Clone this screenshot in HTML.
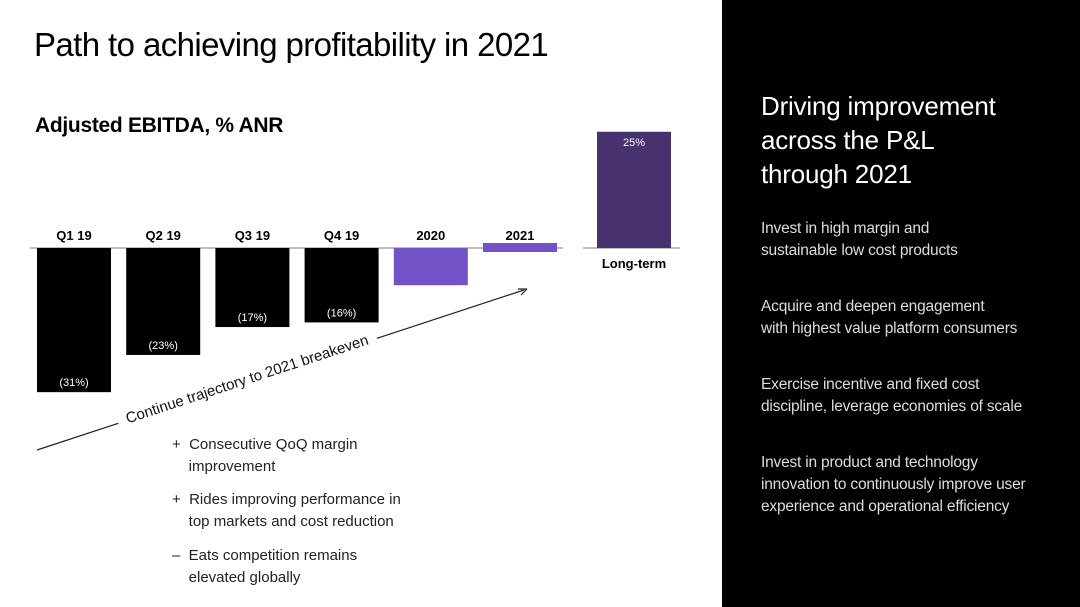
<!DOCTYPE html>
<html><head><meta charset="utf-8"><style>
body{margin:0;width:1080px;height:607px;overflow:hidden;background:#fff;font-family:"Liberation Sans",sans-serif;position:relative}
.t{position:absolute;white-space:nowrap}
#right{position:absolute;left:722px;top:0;width:358px;height:607px;background:#000}
.rp{position:absolute;left:39px;color:#ddd;font-size:15.5px;line-height:22px;letter-spacing:-0.2px}
</style></head><body>
<div class="t" style="left:34px;top:26px;font-size:33px;letter-spacing:-0.6px;color:#000">Path to achieving profitability in 2021</div>
<div class="t" style="left:35px;top:114px;font-size:21px;font-weight:bold;letter-spacing:-0.3px">Adjusted EBITDA, % ANR</div>
<svg id="chart" width="722" height="607" style="position:absolute;left:0;top:0"></svg>
<div class="t" style="left:172px;top:434px;font-size:15px;line-height:22px;color:#222">+&nbsp;&nbsp;Consecutive QoQ margin<br>&nbsp;&nbsp;&nbsp;&nbsp;improvement</div>
<div class="t" style="left:172px;top:489px;font-size:15px;line-height:22px;color:#222">+&nbsp;&nbsp;Rides improving performance in<br>&nbsp;&nbsp;&nbsp;&nbsp;top markets and cost reduction</div>
<div class="t" style="left:172px;top:545px;font-size:15px;line-height:22px;color:#222">&ndash;&nbsp;&nbsp;Eats competition remains<br>&nbsp;&nbsp;&nbsp;&nbsp;elevated globally</div>
<div id="right">
<div class="t" style="left:39px;top:89px;color:#fff;font-size:26px;line-height:34px;letter-spacing:-0.2px">Driving improvement<br>across the P&amp;L<br>through 2021</div>
<div class="rp" style="top:218px">Invest in high margin and<br>sustainable low cost products</div>
<div class="rp" style="top:296px">Acquire and deepen engagement<br>with highest value platform consumers</div>
<div class="rp" style="top:374px">Exercise incentive and fixed cost<br>discipline, leverage economies of scale</div>
<div class="rp" style="top:452px">Invest in product and technology<br>innovation to continuously improve user<br>experience and operational efficiency</div>
</div>
<script>
const categories=["Q1 19","Q2 19","Q3 19","Q4 19","2020","2021","Long-term"];
const values=[-31,-23,-17,-16,-8,0,25];
const labels=["(31%)","(23%)","(17%)","(16%)","","","25%"];
const colors=["#000","#000","#000","#000","#7352c7","#7352c7","#47326f"];
const svg=document.getElementById('chart');
const NS="http://www.w3.org/2000/svg";
const base=248, pxPer=4.65;
const y=v=>base-v*pxPer;
const xLeft=i=>i<6?37+i*89.2:597;
const bw=74;
function mk(tag,attrs){const e=document.createElementNS(NS,tag);for(const k in attrs)e.setAttribute(k,attrs[k]);svg.appendChild(e);return e;}
let l=mk('line',{x1:30,x2:563,y1:base,y2:base,stroke:'#aaa','stroke-width':1.5});


l=mk('line',{x1:583,x2:680,y1:base,y2:base,stroke:'#aaa','stroke-width':1.5});


values.forEach((v,i)=>{
  const x=xLeft(i);
  let top=Math.min(y(v),base), h=Math.abs(y(v)-base);
  if(h<6){top=base-5;h=9;}
  const r=mk('rect',{x:x,y:top,width:bw,height:h,fill:colors[i]});
  
  
  const cy=v>0?base+20:base-8;
  const t=mk('text',{x:x+bw/2,y:cy,'text-anchor':'middle','font-size':13,'font-weight':'bold',fill:'#000'});
  t.textContent=categories[i];
  
  
  if(labels[i]){
    const ly=v<0?y(v)-6:y(v)+14;
    const vt=mk('text',{x:x+bw/2,y:ly,'text-anchor':'middle','font-size':11,fill:'#fff'});
    vt.textContent=labels[i];
    
    
  }
});
const a=mk('line',{x1:37,y1:450,x2:524,y2:290,stroke:'#222','stroke-width':1.2});


const ah=mk('path',{d:'M527,289 L518,289 M527,289 L521,295',stroke:'#222','stroke-width':1.2,fill:'none'});


const bg=mk('rect',{x:-136,y:-11,width:272,height:20,fill:'#fff',transform:'translate(247,379) rotate(-18.2)'});


const at=mk('text',{x:0,y:5,'text-anchor':'middle','font-size':15,fill:'#111',transform:'translate(247,379) rotate(-18.2)'});
at.textContent='Continue trajectory to 2021 breakeven';


</script>
</body></html>
